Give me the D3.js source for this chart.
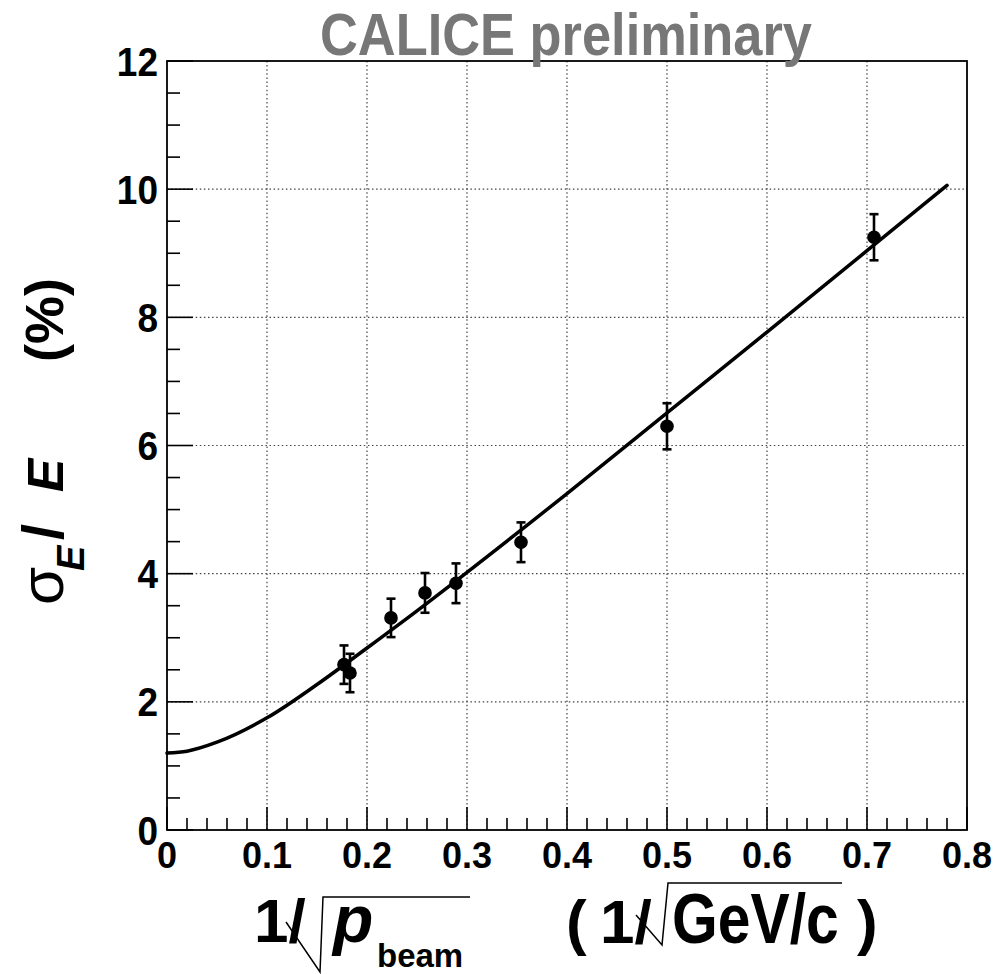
<!DOCTYPE html>
<html>
<head>
<meta charset="utf-8">
<script src="https://cdn.jsdelivr.net/npm/d3@7"></script>
<style>
	body { margin: 0; background: #fff; }
	text { font-family: "Liberation Sans", Arial, Helvetica, sans-serif; font-weight: bold; }
</style>
</head>
<body>
<svg id="chart" width="997" height="974"></svg>
<script>
// measured points (1/sqrt(p) vs sigma_E/E in %)
var pointX = [0.177, 0.183, 0.224, 0.258, 0.289, 0.354, 0.500, 0.707];
var pointY = [2.58, 2.45, 3.31, 3.70, 3.85, 4.49, 6.30, 9.25];
var pointErr = [0.30, 0.30, 0.30, 0.31, 0.31, 0.31, 0.36, 0.36];

// fit curve
var fitX = [0, 0.02, 0.05, 0.10, 0.15, 0.20, 0.25, 0.30, 0.40, 0.50, 0.60, 0.70, 0.78];
var fitY = [1.20, 1.23, 1.37, 1.75, 2.27, 2.84, 3.42, 4.02, 5.25, 6.51, 7.77, 9.04, 10.06];

var xTicks = [0, 0.1, 0.2, 0.3, 0.4, 0.5, 0.6, 0.7, 0.8];
var yTicks = [0, 2, 4, 6, 8, 10, 12];

var svg = d3.select("#chart");
var padLeft = 167, padRight = 967, padTop = 61, padBottom = 830;

var x = d3.scaleLinear().domain([0, 0.8]).range([padLeft, padRight]);
var y = d3.scaleLinear().domain([0, 12]).range([padBottom, padTop]);

/*
Grid
*/
var grid = svg.append("g").attr("stroke", "#444").attr("stroke-width", 1.2).attr("stroke-dasharray", "1.5,2.6");
grid.selectAll(".gx").data(d3.range(1, 8)).enter().append("line")
	.attr("x1", function(d) { return x(d / 10); }).attr("x2", function(d) { return x(d / 10); })
	.attr("y1", padTop).attr("y2", padBottom);
grid.selectAll(".gy").data([2, 4, 6, 8, 10]).enter().append("line")
	.attr("x1", padLeft).attr("x2", padRight)
	.attr("y1", function(d) { return y(d); }).attr("y2", function(d) { return y(d); });

/*
Ticks (inside the frame, like ROOT)
*/
var ticks = svg.append("g").attr("stroke", "#000").attr("stroke-width", 1.6);
ticks.selectAll(".tx").data(d3.range(0, 41)).enter().append("line")
	.attr("x1", function(i) { return x(i * 0.02); }).attr("x2", function(i) { return x(i * 0.02); })
	.attr("y1", padBottom).attr("y2", function(i) { return padBottom - (i % 5 === 0 ? 23 : 12); });
ticks.selectAll(".ty").data(d3.range(0, 25)).enter().append("line")
	.attr("y1", function(i) { return y(i * 0.5); }).attr("y2", function(i) { return y(i * 0.5); })
	.attr("x1", padLeft).attr("x2", function(i) { return padLeft + (i % 4 === 0 ? 26 : 13); });

// frame
svg.append("rect").attr("x", padLeft).attr("y", padTop).attr("width", padRight - padLeft).attr("height", padBottom - padTop)
	.attr("fill", "none").attr("stroke", "#000").attr("stroke-width", 1.8);

/*
Tick labels
*/
svg.append("g").selectAll("text").data(xTicks).enter().append("text")
	.attr("transform", function(d) { return "translate(" + x(d) + ",868) scale(1,1.05)"; })
	.attr("text-anchor", "middle").attr("font-size", 36)
	.text(function(d) { return d; });
svg.append("g").selectAll("text").data(yTicks).enter().append("text")
	.attr("transform", function(d) { return "translate(158," + y(d) + ") scale(1,1.1)"; })
	.attr("dy", "0.36em")
	.attr("text-anchor", "end").attr("font-size", 37)
	.text(function(d) { return d; });

/*
Fit curve
*/
var line = d3.line()
	.x(function(d, i) { return x(fitX[i]); })
	.y(function(d) { return y(d); })
	.curve(d3.curveMonotoneX);
svg.append("path").attr("d", line(fitY)).attr("fill", "none")
	.attr("stroke", "#000").attr("stroke-width", 3.5).attr("stroke-linecap", "round");

/*
Points with error bars
*/
var pts = svg.append("g").selectAll("g").data(pointY).enter().append("g");
pts.append("line")
	.attr("x1", function(d, i) { return x(pointX[i]); }).attr("x2", function(d, i) { return x(pointX[i]); })
	.attr("y1", function(d, i) { return y(d + pointErr[i]); }).attr("y2", function(d, i) { return y(d - pointErr[i]); })
	.attr("stroke", "#000").attr("stroke-width", 2.6);
[1, -1].forEach(function(s) {
	pts.append("line")
		.attr("x1", function(d, i) { return x(pointX[i]) - 4.5; }).attr("x2", function(d, i) { return x(pointX[i]) + 4.5; })
		.attr("y1", function(d, i) { return y(d + s * pointErr[i]); }).attr("y2", function(d, i) { return y(d + s * pointErr[i]); })
		.attr("stroke", "#000").attr("stroke-width", 2.6);
});
pts.append("circle")
	.attr("cx", function(d, i) { return x(pointX[i]); }).attr("cy", function(d) { return y(d); })
	.attr("r", 6.8).attr("fill", "#000");

/*
Title
*/
svg.append("text").attr("x", 320).attr("y", 55).attr("font-size", 60)
	.attr("textLength", 492).attr("lengthAdjust", "spacingAndGlyphs")
	.attr("fill", "#777").text("CALICE preliminary");

/*
X axis title
*/
var xt = svg.append("g");
xt.append("text").attr("x", 254).attr("y", 942).attr("font-size", 62).text("1/");
xt.append("path").attr("d", "M 286 922 L 320 972 L 323 897 L 470 897")
	.attr("fill", "none").attr("stroke", "#000").attr("stroke-width", 1.5);
xt.append("text").attr("x", 333).attr("y", 942).attr("font-size", 66).attr("font-style", "italic").text("p");
xt.append("text").attr("x", 377).attr("y", 967).attr("font-size", 33).text("beam");
xt.append("text").attr("x", 566).attr("y", 943).attr("font-size", 62).text("(");
xt.append("text").attr("x", 600).attr("y", 943).attr("font-size", 62).text("1/");
xt.append("path").attr("d", "M 636 915 L 662 945 L 668 883 L 842 883")
	.attr("fill", "none").attr("stroke", "#000").attr("stroke-width", 1.5);
xt.append("text").attr("transform", "translate(672,943) scale(0.98,1.18)").attr("font-size", 60).text("GeV/c");
xt.append("text").attr("x", 857).attr("y", 943).attr("font-size", 62).text(")");

/*
Y axis title (rotated)
*/
var yt = svg.append("g").attr("transform", "translate(63,0) rotate(-90)");
yt.append("text").attr("x", -605).attr("y", 0).attr("font-size", 62).style("font-weight", "normal").text("σ");
yt.append("text").attr("x", -571).attr("y", 21).attr("font-size", 38).attr("font-style", "italic").text("E");
yt.append("text").attr("x", -540).attr("y", 0).attr("font-size", 58).text("/");
yt.append("text").attr("x", -492).attr("y", 0).attr("font-size", 50).attr("font-style", "italic").text("E");
yt.append("text").attr("x", -362).attr("y", 0).attr("font-size", 54).text("(%)");
</script>
</body>
</html>
